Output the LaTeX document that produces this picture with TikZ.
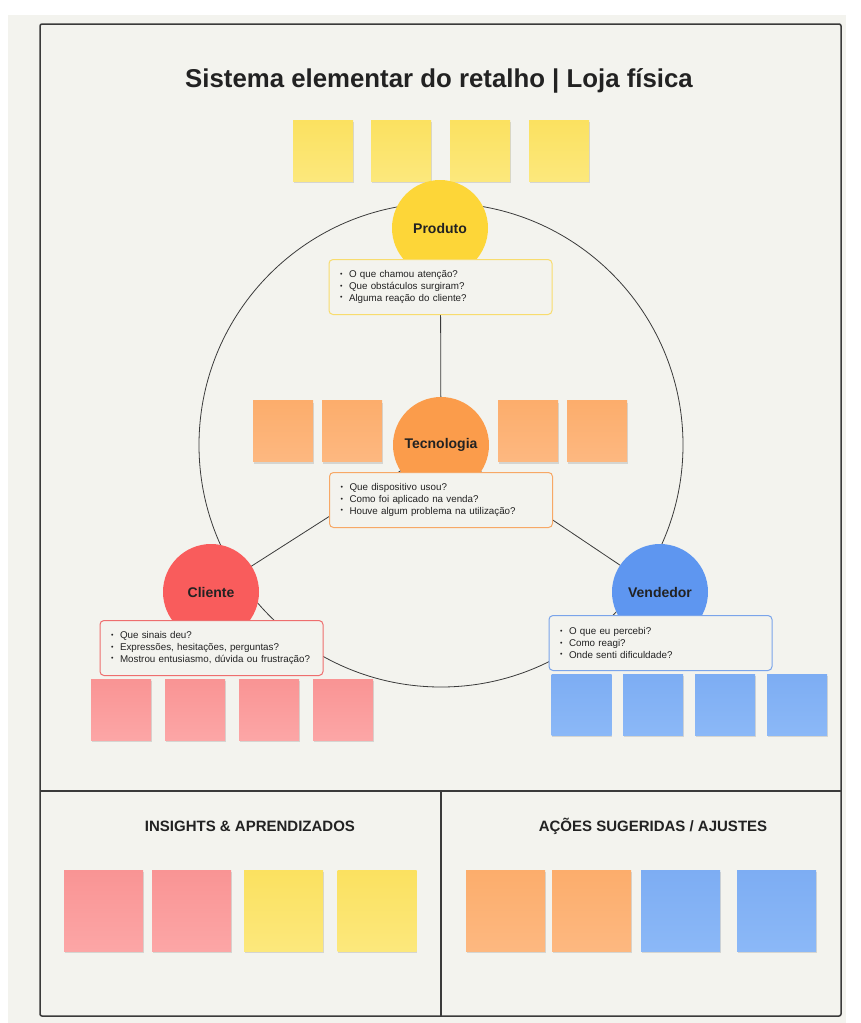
\documentclass[tikz,border=0pt]{standalone}
\usepackage{fontspec}
\setmainfont{Liberation Sans}
\usetikzlibrary{shadows}

\definecolor{board}{HTML}{F3F3EE}
\definecolor{ink}{HTML}{222222}
\definecolor{frameline}{HTML}{3A3A3A}
\definecolor{produtofill}{HTML}{FDD638}
\definecolor{tecnologiafill}{HTML}{FB9C4B}
\definecolor{clientefill}{HTML}{F95C5C}
\definecolor{vendedorfill}{HTML}{5E96F0}
\definecolor{produtoline}{HTML}{F8DC6E}
\definecolor{tecnologialine}{HTML}{F7A866}
\definecolor{clienteline}{HTML}{EE6E6E}
\definecolor{vendedorline}{HTML}{7AA4EA}
\definecolor{yellowtop}{HTML}{FBE160}
\definecolor{yellowbot}{HTML}{FCE87C}
\definecolor{orangetop}{HTML}{FCAD6C}
\definecolor{orangebot}{HTML}{FDB880}
\definecolor{redtop}{HTML}{F99494}
\definecolor{redbot}{HTML}{FCA6A6}
\definecolor{bluetop}{HTML}{7DADF3}
\definecolor{bluebot}{HTML}{8BB8F7}

\pgfdeclarelayer{board}
\pgfdeclarelayer{background}
\pgfsetlayers{board,background,main}

\newcommand{\qline}[1]{\mbox{\makebox[9pt][l]{\raisebox{1.2pt}{\fontsize{7}{7}\selectfont\textbullet}}#1}}

\tikzset{
  sticky/.style={minimum width=60pt, minimum height=61pt, inner sep=0pt,
    drop shadow={shadow xshift=0.5pt, shadow yshift=-2pt, opacity=0.12, fill=black}},
  bigsticky/.style={sticky, minimum width=79pt, minimum height=81pt},
  yellownote/.style={top color=yellowtop, bottom color=yellowbot},
  orangenote/.style={top color=orangetop, bottom color=orangebot},
  rednote/.style={top color=redtop, bottom color=redbot},
  bluenote/.style={top color=bluetop, bottom color=bluebot},
  actor/.style={circle, minimum size=96pt, inner sep=0pt, text=ink,
    font=\fontsize{14}{16}\selectfont\bfseries},
  qbox/.style={rounded corners=4pt, fill=board, line width=1pt, text width=201pt,
    inner xsep=11pt, inner ysep=4pt, minimum height=55pt, align=left, text=ink,
    font=\fontsize{9.8}{11.6}\selectfont},
  heading/.style={text=ink, font=\fontsize{15}{17}\selectfont\bfseries},
  wire/.style={draw=frameline, line width=0.8pt},
}

\begin{document}
\begin{tikzpicture}[x=1pt, y=-1pt]
    \useasboundingbox (0,0) rectangle (860,1023);
    \begin{pgfonlayer}{board}
        \fill[board] (8,15) rectangle (846,1023);
        \draw[frameline, line width=1.5pt, rounded corners=2pt] (40,24) rectangle (841,1016);
        \draw[frameline, line width=1.5pt] (40,791) -- (841,791);
        \draw[frameline, line width=1.5pt] (441,791) -- (441,1016);
    \end{pgfonlayer}

    \node[text=ink, font=\fontsize{25.8}{29}\selectfont\bfseries] (title) at (439,81)
        {Sistema elementar do retalho | Loja física};

    \foreach \x in {323,401,480,559}
        \node[sticky, yellownote] at (\x,150.5) {};
    \foreach \x in {283,352,528,597}
        \node[sticky, orangenote] at (\x,431) {};
    \foreach \x in {121,195,269,343}
        \node[sticky, rednote] at (\x,709.5) {};
    \foreach \x in {581.5,653,725,797}
        \node[sticky, bluenote] at (\x,704.5) {};

    \node[actor, fill=produtofill] (produto) at (440,228) {Produto};
    \node[actor, fill=tecnologiafill] (tecnologia) at (441,445) {Tecnologia};
    \node[actor, fill=clientefill] (cliente) at (211,592) {Cliente};
    \node[actor, fill=vendedorfill] (vendedor) at (660,592) {Vendedor};

    \node[qbox, draw=produtoline] (produtoq) at (440.5,287)
        {\qline{O que chamou atenção?}\\ \qline{Que obstáculos surgiram?}\\ \qline{Alguma reação do cliente?}};
    \node[qbox, draw=tecnologialine] (tecnologiaq) at (441,500)
        {\qline{Que dispositivo usou?}\\ \qline{Como foi aplicado na venda?}\\ \qline{Houve algum problema na utilização?}};
    \node[qbox, draw=clienteline] (clienteq) at (211.5,648)
        {\qline{Que sinais deu?}\\ \qline{Expressões, hesitações, perguntas?}\\ \qline{Mostrou entusiasmo, dúvida ou frustração?}};
    \node[qbox, draw=vendedorline] (vendedorq) at (660.5,643)
        {\qline{O que eu percebi?}\\ \qline{Como reagi?}\\ \qline{Onde senti dificuldade?}};

    \begin{pgfonlayer}{background}
        \draw[wire] (tecnologia.center) circle[radius=242pt];
        \draw[wire] (produtoq) -- (tecnologia);
        \draw[wire] (tecnologia.center) -- (cliente.center);
        \draw[wire] (tecnologia.center) -- (vendedor.center);
    \end{pgfonlayer}

    \node[heading] (insights) at (250,826) {INSIGHTS \& APRENDIZADOS};
    \node[heading] (acoes) at (653,826) {AÇÕES SUGERIDAS / AJUSTES};

    \node[bigsticky, rednote] at (103.5,910.5) {};
    \node[bigsticky, rednote] at (191.5,910.5) {};
    \node[bigsticky, yellownote] at (283.5,910.5) {};
    \node[bigsticky, yellownote] at (377,910.5) {};
    \node[bigsticky, orangenote] at (505.5,910.5) {};
    \node[bigsticky, orangenote] at (591.5,910.5) {};
    \node[bigsticky, bluenote] at (680.5,910.5) {};
    \node[bigsticky, bluenote] at (776.5,910.5) {};
\end{tikzpicture}
\end{document}
